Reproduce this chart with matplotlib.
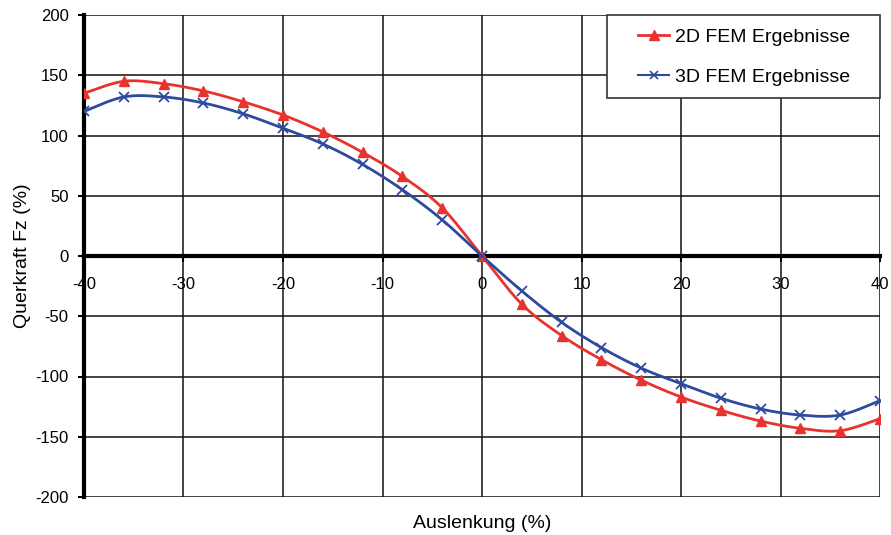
import numpy as np
import matplotlib
matplotlib.use("Agg")
import matplotlib.pyplot as plt
from matplotlib.lines import Line2D
from matplotlib.patches import Rectangle

plt.rcParams['font.family'] = ['Liberation Sans', 'DejaVu Sans']
plt.rcParams['axes.unicode_minus'] = False

x_vals = [-40, -36, -32, -28, -24, -20, -16, -12, -8, -4, 0, 4, 8, 12, 16, 20, 24, 28, 32, 36, 40]
fem2d = [135, 145, 143, 137, 128, 117, 103, 86, 66, 40, 0, -40, -66, -86, -103, -117, -128, -137, -143, -145, -135]
fem3d = [120, 132, 132, 127, 118, 106, 93, 76, 55, 30, 0, -29, -55, -76, -93, -106, -118, -127, -132, -132, -120]

label_2d = "2D FEM Ergebnisse"
label_3d = "3D FEM Ergebnisse"
xlabel = "Auslenkung (%)"
ylabel = "Querkraft Fz (%)"

red = "#e8322e"
blue = "#2e4a9e"


def smooth(xs, ys, n=30):
    xs = np.asarray(xs, float)
    ys = np.asarray(ys, float)
    px = np.concatenate([[xs[0]], xs, [xs[-1]]])
    py = np.concatenate([[ys[0]], ys, [ys[-1]]])
    outx, outy = [], []
    t = np.linspace(0, 1, n)
    for i in range(1, len(px) - 2):
        p0x, p1x, p2x, p3x = px[i - 1], px[i], px[i + 1], px[i + 2]
        p0y, p1y, p2y, p3y = py[i - 1], py[i], py[i + 1], py[i + 2]
        c1x = p1x + (p2x - p0x) / 6
        c1y = p1y + (p2y - p0y) / 6
        c2x = p2x - (p3x - p1x) / 6
        c2y = p2y - (p3y - p1y) / 6
        bx = (1 - t) ** 3 * p1x + 3 * (1 - t) ** 2 * t * c1x + 3 * (1 - t) * t ** 2 * c2x + t ** 3 * p2x
        by = (1 - t) ** 3 * p1y + 3 * (1 - t) ** 2 * t * c1y + 3 * (1 - t) * t ** 2 * c2y + t ** 3 * p2y
        outx.extend(bx)
        outy.extend(by)
    return np.array(outx), np.array(outy)


fig = plt.figure(figsize=(8.91, 5.35), dpi=100)
ax = fig.add_axes([84 / 891, 1 - 497 / 535, (880 - 84) / 891, (497 - 15) / 535])

ax.set_xlim(-40, 40)
ax.set_ylim(-200, 200)
ax.set_xticks(np.arange(-40, 41, 10))
ax.set_yticks(np.arange(-200, 201, 50))
ax.grid(True, color="#111111", linewidth=1.1)
ax.set_axisbelow(True)

sx, sy = smooth(x_vals, fem2d)
ax.plot(sx, sy, color=red, linewidth=2.0, zorder=3)
ax.plot(x_vals, fem2d, linestyle="none", marker="^", markersize=7, color=red, zorder=4)
sx, sy = smooth(x_vals, fem3d)
ax.plot(sx, sy, color=blue, linewidth=2.0, zorder=3)
ax.plot(x_vals, fem3d, linestyle="none", marker="x", markersize=7, markeredgewidth=1.3, color=blue, zorder=4)

ax.spines['bottom'].set_position(('data', 0))
ax.spines['bottom'].set_linewidth(3)
ax.spines['left'].set_linewidth(3)
ax.spines['top'].set_visible(False)
ax.spines['right'].set_visible(False)
ax.tick_params(axis='both', direction='out', length=4, width=1.5, labelsize=12, colors='black')
ax.tick_params(axis='x', pad=11)
ax.tick_params(axis='y', pad=7)

ax.set_xlabel(xlabel, fontsize=14)
ax.xaxis.set_label_coords(0.5, -0.038)
ax.set_ylabel(ylabel, fontsize=14, labelpad=3)

# legend frame
frame = Rectangle(((607 - 84) / 796, (497 - 98) / 482), 273 / 796, 83 / 482,
                  transform=ax.transAxes, facecolor="white", edgecolor="#333333",
                  linewidth=1.2, zorder=9, clip_on=False)
ax.add_patch(frame)

handles = [
    Line2D([], [], color=red, marker="^", markersize=7, linewidth=2),
    Line2D([], [], color=blue, marker="x", markersize=6, markeredgewidth=1.2, linewidth=1.5),
]
leg = ax.legend(handles, [label_2d, label_3d], loc="center left",
                bbox_to_anchor=((638 - 84) / 796, (497 - 57) / 482),
                borderaxespad=0, borderpad=0, fontsize=14, frameon=False,
                handlelength=1.6, labelspacing=1.15, handletextpad=0.3)
leg.set_zorder(10)

fig.savefig("out.png", dpi=100)
